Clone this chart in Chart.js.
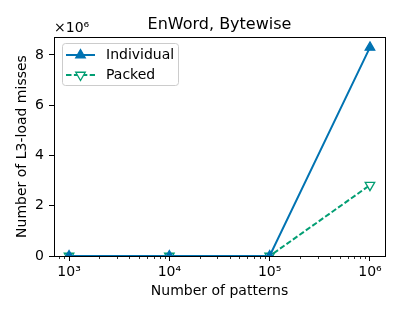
<!DOCTYPE html>
<html><head><meta charset="utf-8">
<script src="https://cdn.jsdelivr.net/npm/chart.js@4/dist/chart.umd.min.js"></script>
<style>html,body{margin:0;padding:0;background:#fff;} canvas{display:block;}</style>
</head><body>
<canvas id="c" width="400" height="320"></canvas>
<script>
// Data (L3-load misses in units of 10^6)
const patterns = [1e3, 1e4, 1e5, 1e6];
const individual = [0, 0, 0, 8.3];
const packed = [0, 0, 0, 2.82];
const yTicks = [0, 2, 4, 6, 8];
const xTickLabels = ['10³', '10⁴', '10⁵', '10⁶'];
const seriesNames = ['Individual', 'Packed'];
const chartTitle = 'EnWord, Bytewise';
const xTitle = 'Number of patterns';
const yTitle = 'Number of L3-load misses';
const offsetText = '×10⁶';

const BLUE = '#0173B2';
const GREEN = '#029E73';
const FONT = 'DejaVu Sans';

const yMax = Math.max(...individual, ...packed) * 1.05;
const xMin = Math.pow(10, 2.85), xMax = Math.pow(10, 6.15);

function tri(ctx, x, y, r, down, fill, stroke, lw) {
  ctx.save();
  ctx.translate(x, y);
  if (down) ctx.rotate(Math.PI);
  ctx.beginPath();
  for (let i = 0; i < 3; i++) {
    const a = i * 2 * Math.PI / 3;
    const px = Math.sin(a) * r, py = -Math.cos(a) * r;
    if (i === 0) ctx.moveTo(px, py); else ctx.lineTo(px, py);
  }
  ctx.closePath();
  ctx.fillStyle = fill; ctx.fill();
  ctx.lineWidth = lw; ctx.strokeStyle = stroke; ctx.stroke();
  ctx.restore();
}

const decor = {
  id: 'decor',
  afterDatasetsDraw(chart) {
    const {ctx, chartArea: a} = chart;
    ctx.save();
    ctx.strokeStyle = '#000'; ctx.lineWidth = 1;
    ctx.strokeRect(Math.round(a.left) + 0.5, Math.round(a.top) + 0.5, Math.round(a.right - a.left), Math.round(a.bottom - a.top));
    ctx.restore();
  },
  afterDraw(chart) {
    const {ctx, chartArea: a} = chart;
    const xs = chart.scales.x;
    ctx.save();
    // minor ticks
    ctx.strokeStyle = '#000'; ctx.lineWidth = 0.8;
    for (let k = 2; k <= 6; k++) {
      for (let m = 2; m <= 9; m++) {
        const v = m * Math.pow(10, k);
        if (v < xs.min || v > xs.max) continue;
        const px = Math.round(xs.getPixelForValue(v)) + 0.5;
        ctx.beginPath(); ctx.moveTo(px, a.bottom); ctx.lineTo(px, a.bottom + 3); ctx.stroke();
      }
    }
    // title
    ctx.fillStyle = '#000';
    ctx.font = '16px "' + FONT + '"';
    ctx.textAlign = 'center'; ctx.textBaseline = 'alphabetic';
    ctx.fillText(chartTitle, (a.left + a.right) / 2, 29);
    // offset text
    ctx.font = '14px "' + FONT + '"';
    ctx.textAlign = 'left';
    ctx.fillText(offsetText, a.left, 32);
    // legend
    const lx = 62.5, ly = 43.5, lw = 116, lh = 42, r = 3;
    ctx.beginPath();
    ctx.moveTo(lx + r, ly); ctx.lineTo(lx + lw - r, ly); ctx.arcTo(lx + lw, ly, lx + lw, ly + r, r);
    ctx.lineTo(lx + lw, ly + lh - r); ctx.arcTo(lx + lw, ly + lh, lx + lw - r, ly + lh, r);
    ctx.lineTo(lx + r, ly + lh); ctx.arcTo(lx, ly + lh, lx, ly + lh - r, r);
    ctx.lineTo(lx, ly + r); ctx.arcTo(lx, ly, lx + r, ly, r); ctx.closePath();
    ctx.fillStyle = 'rgba(255,255,255,0.8)'; ctx.fill();
    ctx.strokeStyle = '#cccccc'; ctx.lineWidth = 1; ctx.stroke();
    const rows = [
      {name: seriesNames[0], y: 55, color: BLUE, dash: [], down: false, fill: BLUE},
      {name: seriesNames[1], y: 75, color: GREEN, dash: [5.5, 2.4], down: true, fill: '#fff'}
    ];
    rows.forEach(rw => {
      ctx.strokeStyle = rw.color; ctx.lineWidth = 2; ctx.setLineDash(rw.dash);
      ctx.beginPath(); ctx.moveTo(66, rw.y); ctx.lineTo(95, rw.y); ctx.stroke();
      ctx.setLineDash([]);
      tri(ctx, 80.5, rw.y, 5.5, rw.down, rw.fill, rw.color, 1.3);
      ctx.fillStyle = '#000'; ctx.font = '14px "' + FONT + '"';
      ctx.textAlign = 'left'; ctx.textBaseline = 'middle';
      ctx.fillText(rw.name, 106, rw.y);
    });
    ctx.restore();
  }
};

new Chart(document.getElementById('c'), {
  type: 'line',
  data: {
    datasets: [
      {
        label: seriesNames[0],
        data: patterns.map((p, i) => ({x: p, y: individual[i]})),
        borderColor: BLUE, backgroundColor: BLUE, borderWidth: 2, clip: 0,
        pointStyle: 'triangle', pointRadius: 5.5, pointBorderWidth: 1.3,
        pointBackgroundColor: BLUE, pointBorderColor: BLUE, tension: 0
      },
      {
        label: seriesNames[1],
        data: patterns.map((p, i) => ({x: p, y: packed[i]})),
        borderColor: GREEN, backgroundColor: '#fff', borderWidth: 2, borderDash: [5.5, 2.4], clip: 0,
        pointStyle: 'triangle', pointRotation: 180, pointRadius: 5.5, pointBorderWidth: 1.3,
        pointBackgroundColor: '#fff', pointBorderColor: GREEN, tension: 0
      }
    ]
  },
  options: {
    responsive: false, animation: false, devicePixelRatio: 1,
    layout: {padding: {top: 37, right: 15, left: 0, bottom: 0}},
    plugins: {legend: {display: false}, tooltip: {enabled: false}, title: {display: false}},
    scales: {
      x: {
        type: 'logarithmic', min: xMin, max: xMax,
        afterBuildTicks: s => { s.ticks = patterns.map(v => ({value: v, major: true})); },
        afterFit: s => { s.height = 64; },
        ticks: {callback: (v, i) => xTickLabels[i], color: '#000', font: {family: FONT, size: 14}, padding: 3, maxRotation: 0, autoSkip: false},
        grid: {drawOnChartArea: false, drawTicks: true, tickLength: 5, tickWidth: 1, tickColor: '#000'},
        border: {display: true, color: '#000', width: 1},
        title: {display: true, text: xTitle, color: '#000', font: {family: FONT, size: 14}, padding: {top: 0, bottom: 20}}
      },
      y: {
        type: 'linear', min: 0, max: yMax,
        afterBuildTicks: s => { s.ticks = yTicks.map(v => ({value: v})); },
        afterFit: s => { s.width = 54; },
        ticks: {color: '#000', font: {family: FONT, size: 14}, padding: 5},
        grid: {drawOnChartArea: false, drawTicks: true, tickLength: 5, tickWidth: 1, tickColor: '#000'},
        border: {display: true, color: '#000', width: 1},
        title: {display: true, text: yTitle, color: '#000', font: {family: FONT, size: 14}, padding: {top: 14, bottom: 0}}
      }
    }
  },
  plugins: [decor]
});
</script>
</body></html>
